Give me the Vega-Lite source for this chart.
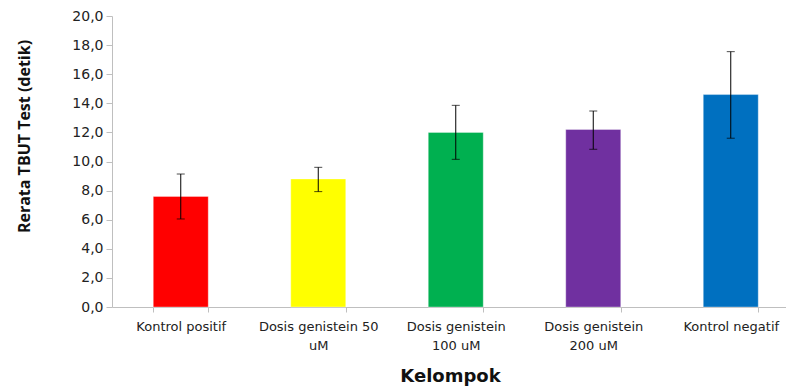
{
  "$schema": "https://vega.github.io/schema/vega-lite/v6.json",
  "autosize": "none",
  "width": 674,
  "height": 291,
  "padding": {"left": 112, "top": 16, "right": 0, "bottom": 79},
  "background": "white",
  "config": {
    "view": {"stroke": null},
    "font": "DejaVu Sans",
    "axis": {"labelFont": "DejaVu Sans", "titleFont": "DejaVu Sans", "labelColor": "#222222", "titleColor": "#111111"},
    "axisY": {
      "titleFont": "Open Sans",
      "titleFontSize": 16,
      "titleFontWeight": "bold",
      "titleX": -80,
      "titleY": 120,
      "labelOverlap": false,
      "labelFontSize": 14,
      "labelPadding": 3,
      "tickSize": 6,
      "tickColor": "#BFBFBF",
      "domainColor": "#BFBFBF",
      "grid": false
    }
  },
  "data": {
    "values": [
      {"kelompok": "Kontrol positif", "mean": 7.6, "lo": 6.05, "hi": 9.14},
      {"kelompok": "Dosis genistein 50 uM", "mean": 8.8, "lo": 7.93, "hi": 9.6},
      {"kelompok": "Dosis genistein 100 uM", "mean": 12.0, "lo": 10.15, "hi": 13.86},
      {"kelompok": "Dosis genistein 200 uM", "mean": 12.2, "lo": 10.84, "hi": 13.47},
      {"kelompok": "Kontrol negatif", "mean": 14.6, "lo": 11.6, "hi": 17.55}
    ]
  },
  "encoding": {
    "x": {
      "field": "kelompok",
      "type": "nominal",
      "sort": null,
      "scale": {"range": [0, 687.5], "paddingInner": 0.6, "paddingOuter": 0.3},
      "axis": {
        "title": "Kelompok",
        "titleFontSize": 18,
        "titleFontWeight": "bold",
        "titleX": 338,
        "titleY": 74,
        "titleBaseline": "alphabetic",
        "labelAngle": 0,
        "labelFontSize": 13,
        "labelPadding": 8,
        "labelLineHeight": 19,
        "labelExpr": "datum.label == 'Dosis genistein 50 uM' ? ['Dosis genistein 50', 'uM'] : datum.label == 'Dosis genistein 100 uM' ? ['Dosis genistein', '100 uM'] : datum.label == 'Dosis genistein 200 uM' ? ['Dosis genistein', '200 uM'] : datum.label",
        "tickBand": "extent",
        "tickSize": 5,
        "tickColor": "#BFBFBF",
        "domainColor": "#BFBFBF",
        "grid": false
      }
    }
  },
  "layer": [
    {
      "mark": {"type": "bar", "strokeWidth": 1, "strokeOpacity": 0.35, "stroke": "white"},
      "encoding": {
        "y": {
          "field": "mean",
          "type": "quantitative",
          "scale": {"domain": [0, 20], "nice": false},
          "axis": {
            "title": "Rerata TBUT Test (detik)",
            "values": [0, 2, 4, 6, 8, 10, 12, 14, 16, 18, 20],
            "labelExpr": "replace(format(datum.value, '.1f'), '.', ',')"
          }
        },
        "color": {
          "field": "kelompok",
          "type": "nominal",
          "sort": null,
          "scale": {
            "domain": ["Kontrol positif", "Dosis genistein 50 uM", "Dosis genistein 100 uM", "Dosis genistein 200 uM", "Kontrol negatif"],
            "range": ["#FF0000", "#FFFF00", "#00B050", "#7030A0", "#0070C0"]
          },
          "legend": null
        }
      }
    },
    {
      "mark": {"type": "rule", "color": "#000000", "strokeWidth": 1},
      "encoding": {
        "y": {"field": "lo", "type": "quantitative", "axis": {"title": "Rerata TBUT Test (detik)", "values": [0, 2, 4, 6, 8, 10, 12, 14, 16, 18, 20], "labelExpr": "replace(format(datum.value, '.1f'), '.', ',')"}},
        "y2": {"field": "hi"}
      }
    },
    {
      "mark": {"type": "tick", "color": "#000000", "size": 8, "thickness": 1},
      "encoding": {
        "y": {"field": "lo", "type": "quantitative", "axis": {"title": "Rerata TBUT Test (detik)", "values": [0, 2, 4, 6, 8, 10, 12, 14, 16, 18, 20], "labelExpr": "replace(format(datum.value, '.1f'), '.', ',')"}}
      }
    },
    {
      "mark": {"type": "tick", "color": "#000000", "size": 8, "thickness": 1},
      "encoding": {
        "y": {"field": "hi", "type": "quantitative", "axis": {"title": "Rerata TBUT Test (detik)", "values": [0, 2, 4, 6, 8, 10, 12, 14, 16, 18, 20], "labelExpr": "replace(format(datum.value, '.1f'), '.', ',')"}}
      }
    }
  ]
}
